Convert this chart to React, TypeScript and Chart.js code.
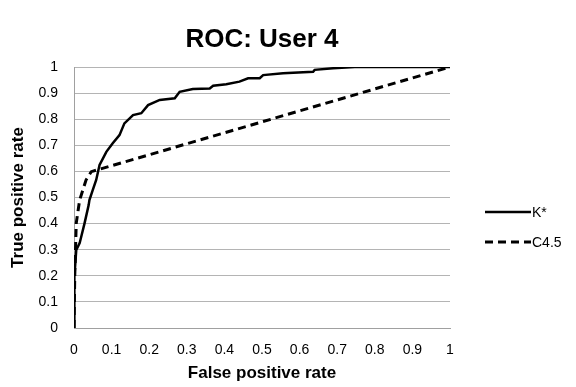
import React, { useEffect, useRef } from "react";
import { Chart, registerables } from "chart.js";

Chart.register(...registerables);

const TITLE = "ROC: User 4";
const X_TITLE = "False positive rate";
const Y_TITLE = "True positive rate";
const SERIES_LABELS = ["K*", "C4.5"];
const TICK_VALUES = [0, 0.1, 0.2, 0.3, 0.4, 0.5, 0.6, 0.7, 0.8, 0.9, 1];

const kStarFpr = [0, 0.001, 0.006, 0.015, 0.028, 0.039, 0.041, 0.05, 0.059, 0.068, 0.086, 0.103, 0.121, 0.134, 0.157, 0.179, 0.197, 0.228, 0.268, 0.281, 0.316, 0.361, 0.37, 0.405, 0.44, 0.463, 0.494, 0.503, 0.556, 0.636, 0.64, 0.689, 0.747, 1];
const kStarTpr = [0, 0.197, 0.299, 0.325, 0.401, 0.471, 0.49, 0.529, 0.567, 0.625, 0.675, 0.708, 0.739, 0.784, 0.816, 0.823, 0.854, 0.874, 0.88, 0.905, 0.916, 0.918, 0.928, 0.934, 0.944, 0.957, 0.957, 0.969, 0.976, 0.982, 0.989, 0.995, 1, 1];

const c45Fpr = [0, 0.002, 0.006, 0.015, 0.032, 0.046, 1];
const c45Tpr = [0, 0.2, 0.402, 0.49, 0.567, 0.599, 1];

const FONT = "'Liberation Sans', Arial, sans-serif";

const toPoints = (xs: number[], ys: number[]) => xs.map((x, i) => ({ x, y: ys[i] }));

const decorPlugin = {
  id: "decor",
  afterDraw(chart: any) {
    const ctx = chart.ctx as CanvasRenderingContext2D;
    const a = chart.chartArea;
    const cx = (a.left + a.right) / 2;
    ctx.save();
    ctx.fillStyle = "#000";
    ctx.textAlign = "center";
    ctx.textBaseline = "middle";
    ctx.font = `bold 26px ${FONT}`;
    ctx.fillText(TITLE, cx, 40);
    ctx.font = `bold 17px ${FONT}`;
    ctx.fillText(X_TITLE, cx, 373);
    ctx.save();
    ctx.translate(18, (a.top + a.bottom) / 2);
    ctx.rotate(-Math.PI / 2);
    ctx.fillText(Y_TITLE, 0, 0);
    ctx.restore();

    // legend
    chart.data.datasets.forEach((ds: any, i: number) => {
      const y = 212 + i * 30;
      ctx.beginPath();
      ctx.strokeStyle = "#000";
      ctx.lineWidth = ds.borderWidth;
      ctx.setLineDash(ds.borderDash || []);
      ctx.moveTo(485, y);
      ctx.lineTo(531, y);
      ctx.stroke();
      ctx.setLineDash([]);
      ctx.font = `14px ${FONT}`;
      ctx.textAlign = "left";
      ctx.fillText(ds.label, 532, y + 1);
    });
    ctx.restore();
  },
};

export default function App() {
  const ref = useRef<HTMLCanvasElement | null>(null);

  useEffect(() => {
    document.body.style.margin = "0";
    const canvas = ref.current!;
    const chart = new Chart(canvas, {
      type: "line",
      data: {
        datasets: [
          {
            label: SERIES_LABELS[0],
            data: toPoints(kStarFpr, kStarTpr),
            borderColor: "#000",
            borderWidth: 2.5,
            pointRadius: 0,
            tension: 0,
            fill: false,
          },
          {
            label: SERIES_LABELS[1],
            data: toPoints(c45Fpr, c45Tpr),
            borderColor: "#000",
            borderWidth: 3,
            borderDash: [8, 5],
            pointRadius: 0,
            tension: 0,
            fill: false,
          },
        ],
      },
      options: {
        animation: false,
        responsive: false,
        layout: { padding: { top: 67, right: 126, bottom: 0, left: 0 } },
        plugins: {
          legend: { display: false },
          title: { display: false },
          tooltip: { enabled: false },
        },
        scales: {
          x: {
            type: "linear",
            min: 0,
            max: 1,
            afterFit: (s: any) => {
              s.height = 59;
            },
            afterBuildTicks: (s: any) => {
              s.ticks = TICK_VALUES.map((v) => ({ value: v }));
            },
            grid: { display: false, drawTicks: false },
            border: { display: true, color: "#a0a0a0", width: 1 },
            ticks: {
              color: "#000",
              padding: 14,
              maxRotation: 0,
              autoSkip: false,
              font: { family: FONT, size: 14 },
              callback: (v: any) => String(Math.round(v * 10) / 10),
            },
          },
          y: {
            type: "linear",
            min: 0,
            max: 1,
            afterFit: (s: any) => {
              s.width = 74;
            },
            afterBuildTicks: (s: any) => {
              s.ticks = TICK_VALUES.map((v) => ({ value: v }));
            },
            grid: { display: true, color: "#b4b4b4", drawTicks: false },
            border: { display: true, color: "#a0a0a0", width: 1 },
            ticks: {
              color: "#000",
              padding: 16,
              autoSkip: false,
              font: { family: FONT, size: 14 },
              callback: (v: any) => String(Math.round(v * 10) / 10),
            },
          },
        },
      },
      plugins: [decorPlugin],
    });
    return () => chart.destroy();
  }, []);

  return (
    <div style={{ width: 576, height: 387, background: "#fff" }}>
      <canvas ref={ref} width={576} height={387} />
    </div>
  );
}
